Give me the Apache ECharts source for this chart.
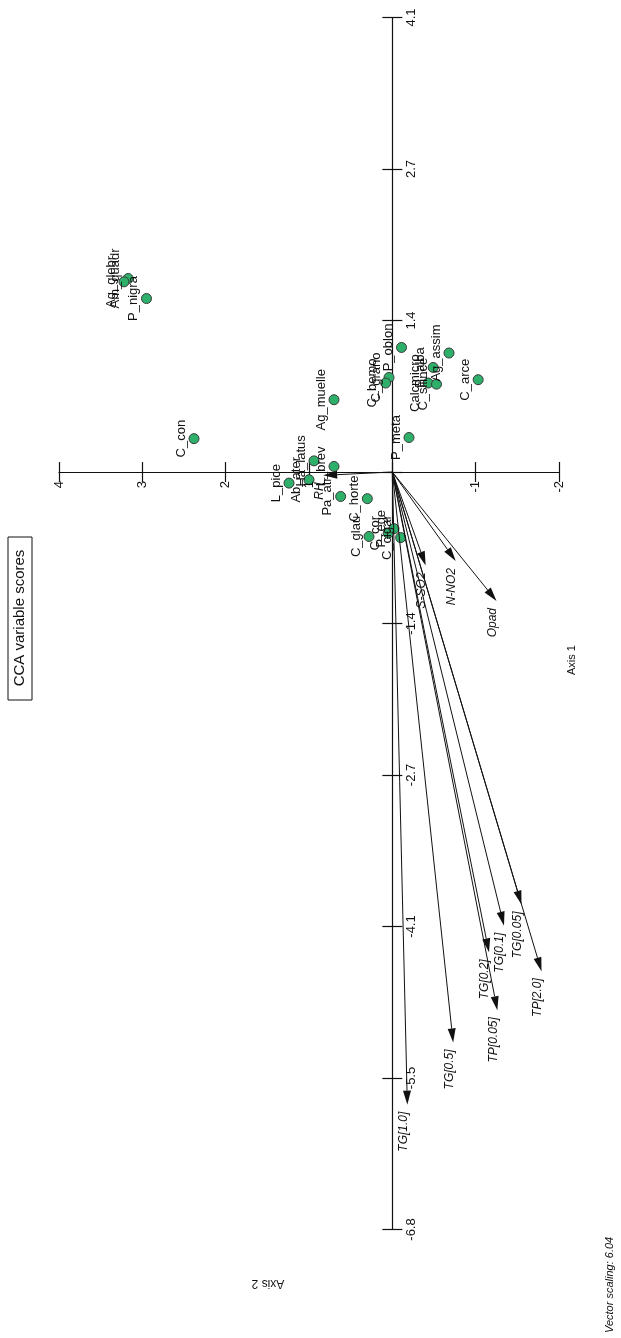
<!DOCTYPE html>
<html>
<head>
<meta charset="utf-8">
<script src="https://cdn.jsdelivr.net/npm/echarts@6/dist/echarts.min.js"></script>
<style>
  html, body { margin: 0; padding: 0; background: #fff; }
  #chart { width: 621px; height: 1338px; }
</style>
</head>
<body>
<div id="chart"></div>
<script>
// page is the CCA plot turned a quarter turn: Axis 2 runs across, Axis 1 runs down
var speciesNames = ['Am_quadr', 'Ag_glebr', 'P_nigra', 'C_con', 'Ag_muelle', 'P_oblon', 'Ag_assim',
  'P_alba', 'Calcmicro', 'C_silince', 'C_arce', 'C_grano', 'C_bemo', 'P_meta', 'Ha_latus', 'L_brev',
  'L_pice', 'Ab_ater', 'Pa_atr', 'C_horte', 'C_glau', 'C_cor', 'P_ege', 'C_cigar']
var speciesAxis1 = [1.74, 1.71, 1.56, 0.30, 0.65, 1.12, 1.07, 0.94, 0.80, 0.79, 0.83, 0.85, 0.80, 0.31,
  0.10, 0.05, -0.10, -0.07, -0.22, -0.24, -0.58, -0.55, -0.51, -0.59]
var speciesAxis2 = [3.17, 3.22, 2.95, 2.38, 0.70, -0.11, -0.68, -0.49, -0.43, -0.53, -1.03, 0.04, 0.08, -0.20,
  0.94, 0.70, 1.24, 1.00, 0.62, 0.30, 0.28, 0.05, -0.02, -0.10]

var vectorNames = ['RH', 'N-NO2', 'S-SO2', 'Opad', 'TG[1.0]', 'TG[0.5]', 'TP[0.05]', 'TG[0.2]', 'TG[0.1]', 'TG[0.05]', 'TP[2.0]']
var vectorAxis1 = [-0.03, -0.80, -0.84, -1.16, -5.69, -5.13, -4.84, -4.32, -4.08, -3.89, -4.49]
var vectorAxis2 = [0.83, -0.76, -0.40, -1.25, -0.18, -0.73, -1.26, -1.16, -1.34, -1.55, -1.79]

// tick labels, from the lowest tick up
var axis1Ticks = ['-6.8', '-5.5', '-4.1', '-2.7', '-1.4', '', '1.4', '2.7', '4.1']
var axis1Step = 1.3625
var axis2Ticks = ['-2', '-1', '', '1', '2', '3', '4']

var FONT = '"Liberation Sans", Arial, sans-serif'

var chart = echarts.init(document.getElementById('chart'))

var speciesData = speciesNames.map(function (n, i) {
  return { name: n, value: [speciesAxis2[i], speciesAxis1[i]] }
})
var vectorData = vectorNames.map(function (n, i) {
  return { name: n, value: [vectorAxis2[i], vectorAxis1[i]] }
})
var axis1TickData = axis1Ticks.map(function (t, i) {
  return { name: t, value: [0, (i - 5) * axis1Step] }
})
var axis2TickData = axis2Ticks.map(function (t, i) {
  return { name: t, value: [i - 2, 0] }
})

function xAxisOpt(pos, showLine) {
  return {
    type: 'value', position: pos, min: -2, max: 4, interval: 1, inverse: true,
    axisLine: { show: showLine, onZero: true, lineStyle: { color: '#111', width: 1.2 } },
    axisTick: { show: true, length: 10, lineStyle: { color: '#111', width: 1.2 } },
    axisLabel: { show: false },
    splitLine: { show: false }
  }
}
function yAxisOpt(pos, showLine) {
  return {
    type: 'value', position: pos, min: -5 * axis1Step, max: 3 * axis1Step, interval: axis1Step,
    axisLine: { show: showLine, onZero: true, lineStyle: { color: '#111', width: 1.2 } },
    axisTick: { show: true, length: 10, lineStyle: { color: '#111', width: 1.2 } },
    axisLabel: { show: false },
    splitLine: { show: false }
  }
}

function tickLabels(data, dx, dy, align, vAlign) {
  return {
    type: 'custom',
    xAxisIndex: 0, yAxisIndex: 0,
    data: data,
    clip: false,
    z: 4,
    renderItem: function (params, api) {
      var p = api.coord([api.value(0), api.value(1)])
      return {
        type: 'text', x: p[0] + dx, y: p[1] + dy, rotation: Math.PI / 2,
        style: { text: data[params.dataIndex].name, font: '13px ' + FONT, fill: '#111',
          align: align, verticalAlign: vAlign }
      }
    }
  }
}

chart.setOption({
  animation: false,
  backgroundColor: '#fff',
  grid: { left: 59, right: 62, top: 17.5, bottom: 108.5, containLabel: false },
  xAxis: [xAxisOpt('bottom', true), xAxisOpt('top', false)],
  yAxis: [yAxisOpt('left', true), yAxisOpt('right', false)],
  graphic: [
    { type: 'rect', shape: { x: 8, y: 537, width: 24, height: 163 }, style: { fill: 'none', stroke: '#111', lineWidth: 1 } },
    { type: 'text', x: 20, y: 618, rotation: Math.PI / 2,
      style: { text: 'CCA variable scores', font: '15px ' + FONT, fill: '#111', align: 'center', verticalAlign: 'middle' } },
    { type: 'text', x: 572, y: 660, rotation: Math.PI / 2,
      style: { text: 'Axis 1', font: '11px ' + FONT, fill: '#111', align: 'center', verticalAlign: 'middle' } },
    { type: 'text', x: 268, y: 1283, rotation: Math.PI,
      style: { text: 'Axis 2', font: '12px ' + FONT, fill: '#111', align: 'center', verticalAlign: 'middle' } },
    { type: 'text', x: 610, y: 1333, rotation: Math.PI / 2,
      style: { text: 'Vector scaling: 6.04', font: 'italic 11px ' + FONT, fill: '#111', align: 'left', verticalAlign: 'middle' } }
  ],
  series: [
    {
      type: 'scatter',
      xAxisIndex: 0, yAxisIndex: 0,
      data: speciesData,
      symbol: 'circle',
      symbolSize: 10,
      z: 2,
      itemStyle: { color: '#2eb06b', borderColor: '#3a3a3a', borderWidth: 1, opacity: 1 },
      label: {
        show: true, formatter: '{b}', position: 'left', distance: 1, rotate: 90,
        align: 'center', verticalAlign: 'bottom',
        fontSize: 13, color: '#111', fontFamily: FONT
      },
      emphasis: { disabled: true }
    },
    {
      type: 'custom',
      xAxisIndex: 0, yAxisIndex: 0,
      data: vectorData,
      z: 3,
      clip: false,
      renderItem: function (params, api) {
        var o = api.coord([0, 0])
        var t = api.coord([api.value(0), api.value(1)])
        var dx = t[0] - o[0], dy = t[1] - o[1]
        var len = Math.sqrt(dx * dx + dy * dy)
        var ux = dx / len, uy = dy / len
        var hl = 14, hw = 4
        var bx = t[0] - ux * hl, by = t[1] - uy * hl
        return {
          type: 'group',
          children: [
            { type: 'line', shape: { x1: o[0], y1: o[1], x2: bx, y2: by }, style: { stroke: '#111', lineWidth: 1 } },
            { type: 'polygon', shape: { points: [[t[0], t[1]], [bx - uy * hw, by + ux * hw], [bx + uy * hw, by - ux * hw]] },
              style: { fill: '#111' } },
            { type: 'text', x: t[0] - 4, y: t[1] + 7, rotation: Math.PI / 2,
              style: { text: vectorNames[params.dataIndex], font: 'italic 12px ' + FONT, fill: '#111',
                align: 'right', verticalAlign: 'middle' } }
          ]
        }
      }
    },
    tickLabels(axis1TickData, 13, 0, 'center', 'top'),
    tickLabels(axis2TickData, 0, 9, 'right', 'middle')
  ]
})
</script>
</body>
</html>
